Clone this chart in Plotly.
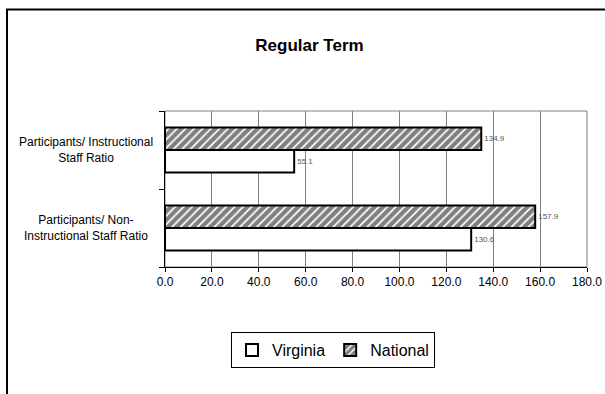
import plotly.graph_objects as go

categories = ["Participants/ Non-<br>Instructional Staff Ratio",
              "Participants/ Instructional<br>Staff Ratio"]
virginia = [130.6, 55.1]
national = [157.9, 134.9]
x_ticks = [0, 20, 40, 60, 80, 100, 120, 140, 160, 180]

FONT = "Liberation Sans, Arial, sans-serif"

W, H = 605, 394
L, R, T, B = 165, 18, 111, 127
pw, ph = W - L - R, H - T - B

def px(x):
    return (x - L) / pw

def py(y):
    return (H - B - y) / ph

fig = go.Figure()
fig.add_trace(go.Bar(
    y=categories, x=virginia, orientation="h", name="Virginia",
    marker=dict(color="white", line=dict(color="black", width=2)),
    texttemplate="%{x:.1f}", textposition="outside",
    textfont=dict(size=8, color="#555", family=FONT),
    cliponaxis=False, constraintext="none",
))
fig.add_trace(go.Bar(
    y=categories, x=national, orientation="h", name="National",
    marker=dict(color="white", line=dict(color="black", width=2),
                pattern=dict(shape="/", fgcolor="black", bgcolor="white",
                             size=6, solidity=0.7)),
    texttemplate="%{x:.1f}", textposition="outside",
    textfont=dict(size=8, color="#555", family=FONT),
    cliponaxis=False, constraintext="none",
))

annotations = []
for c in categories:
    annotations.append(dict(
        x=px(86), xref="paper", y=c, yref="y", text=c, showarrow=False,
        xanchor="center", yanchor="middle", align="center",
        font=dict(family=FONT, size=12, color="black"),
    ))

shapes = [
    dict(type="rect", xref="paper", yref="paper", x0=0, x1=1, y0=0, y1=1,
         line=dict(color="#808080", width=1), layer="below"),
    dict(type="rect", xref="paper", yref="paper",
         x0=px(7), x1=px(640), y0=py(420), y1=py(9.5),
         line=dict(color="black", width=2), layer="above"),
]

fig.update_layout(
    width=W, height=H,
    margin=dict(l=L, r=R, t=T, b=B, autoexpand=False),
    paper_bgcolor="white", plot_bgcolor="white",
    barmode="group", bargap=0.42, bargroupgap=0,
    title=dict(text="<b>Regular Term</b>", x=px(309.5), xref="paper",
               xanchor="center", y=1 - 45 / H, yanchor="middle",
               font=dict(family=FONT, size=17, color="black")),
    font=dict(family=FONT, color="black"),
    xaxis=dict(range=[0, 180], tickvals=x_ticks, tickformat=".1f",
               showgrid=True, gridcolor="#808080", gridwidth=1,
               showline=True, linecolor="black", linewidth=1,
               ticks="outside", ticklen=4, tickcolor="black",
               zeroline=False, tickfont=dict(size=12, family=FONT)),
    yaxis=dict(type="category", showticklabels=False, tickson="boundaries",
               ticks="outside", ticklen=5, tickcolor="black",
               showline=True, linecolor="black", linewidth=1,
               showgrid=False, zeroline=False),
    legend=dict(orientation="h", x=px(333), y=py(350), xanchor="center",
                yanchor="middle", bordercolor="black", borderwidth=1,
                bgcolor="white", font=dict(family=FONT, size=16),
                itemwidth=30, tracegroupgap=0, traceorder="normal"),
    annotations=annotations,
    shapes=shapes,
)

fig.write_html("out.html", config={"displayModeBar": False},
               post_script="document.body.style.margin='0';")
